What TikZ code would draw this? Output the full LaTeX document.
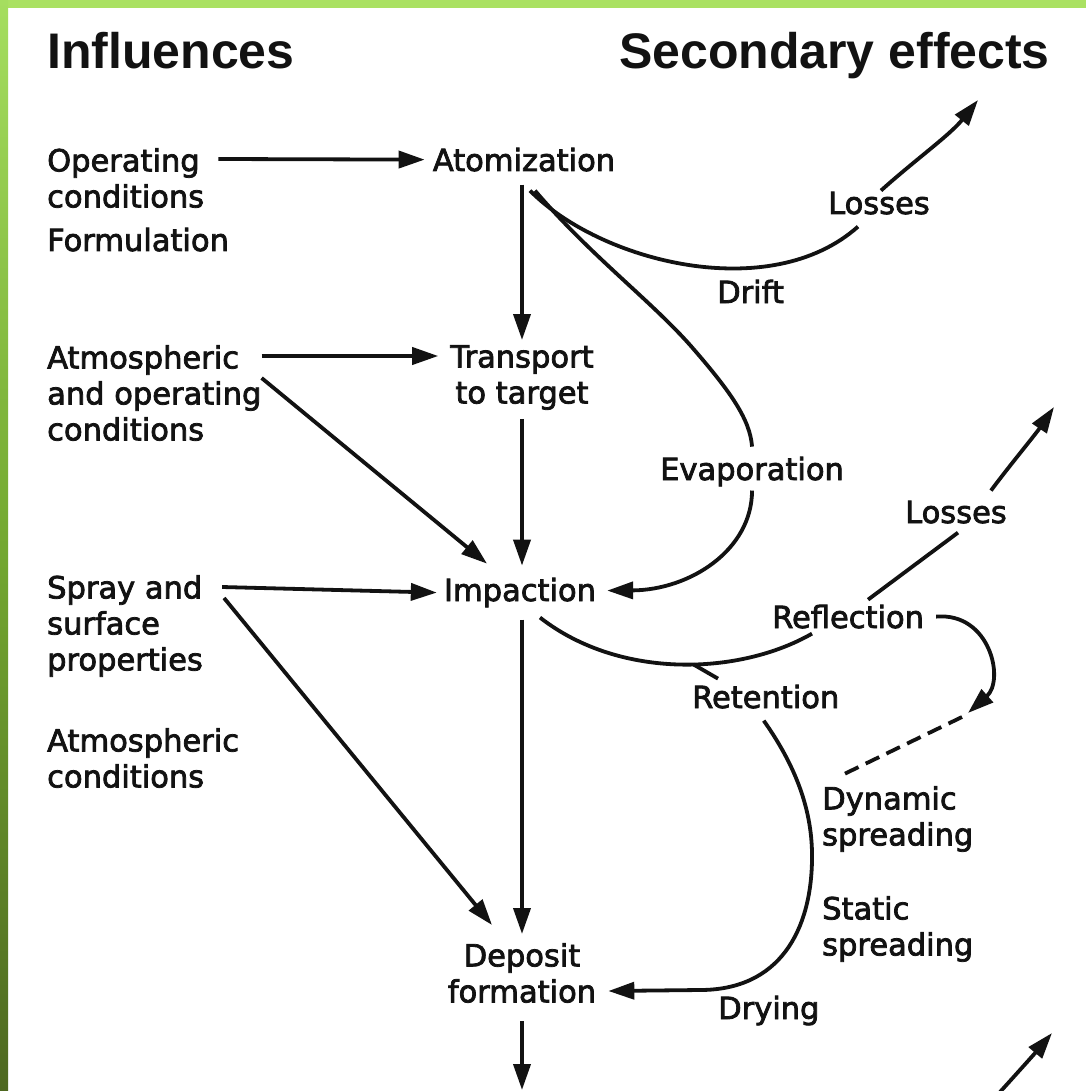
\documentclass[tikz,border=0pt]{standalone}
\usepackage{fontspec}
\setmainfont{DejaVu Sans}
\newfontfamily\labfont{DejaVu Sans}[FakeBold=2.5]
\newfontfamily\headfont{Liberation Sans}
\usetikzlibrary{arrows.meta}
\definecolor{ink}{RGB}{18,18,18}
\definecolor{topgreen}{RGB}{170,225,98}
\definecolor{greenA}{RGB}{165,222,95}
\definecolor{greenB}{RGB}{115,168,48}
\definecolor{greenC}{RGB}{78,104,32}
\tikzset{
  lab/.style={inner sep=0pt, font=\labfont\fontsize{30.5}{36}\selectfont, align=left, text=ink},
  labc/.style={lab, align=center},
  head/.style={inner sep=0pt, font=\headfont\bfseries\fontsize{50}{60}\selectfont, text=ink},
  conn/.style={line width=3.8pt, draw=ink},
  arr/.style={conn, -{Triangle[length=26pt,width=17pt]}},
  dashline/.style={conn, dash pattern=on 15pt off 8pt}
}
\begin{document}
\begin{tikzpicture}[x=1pt,y=-1pt]
\useasboundingbox (0,0) rectangle (1086,1091);
\fill[white] (0,0) rectangle (1086,1091);
\fill[topgreen] (0,0) rectangle (1086,8);
\shade[top color=greenA, bottom color=greenC, middle color=greenB] (0,0) rectangle (8,1091);

% headings
\node[head, anchor=base west] (infl) at (47,69) {Influences};
\node[head, anchor=base east] (sec) at (1050,69) {Secondary effects};

% influences
\node[lab, anchor=north west] (op) at (47,148) {Operating\\conditions};
\node[lab, anchor=base west] (form) at (47,251) {Formulation};
\node[lab, anchor=north west] (atm1) at (47,345) {Atmospheric\\and operating\\conditions};
\node[lab, anchor=north west] (spray) at (47,575) {Spray and\\surface\\properties};
\node[lab, anchor=north west] (atm2) at (47,728) {Atmospheric\\conditions};

% main chain
\node[lab, anchor=base] (atom) at (524,171) {Atomization};
\node[labc, anchor=north] (trans) at (522,345) {Transport\\to target};
\node[lab, anchor=base] (imp) at (520,601) {Impaction};
\node[labc, anchor=north] (dep) at (522,943) {Deposit\\formation};

% secondary
\node[lab, anchor=base west] (drift) at (717,303) {Drift};
\node[lab, anchor=base west] (loss1) at (828,214) {Losses};
\node[lab, anchor=base west] (evap) at (660,480) {Evaporation};
\node[lab, anchor=base west] (loss2) at (905,523) {Losses};
\node[lab, anchor=base west] (refl) at (772,628) {Reflection};
\node[lab, anchor=base west] (ret) at (692,708) {Retention};
\node[lab, anchor=north west] (dyn) at (822,786) {Dynamic\\spreading};
\node[lab, anchor=north west] (stat) at (822,896) {Static\\spreading};
\node[lab, anchor=base west] (dry) at (718,1019) {Drying};

% free ends
\coordinate (out) at (522,1090);
\coordinate (br1) at (1000,1092);
\coordinate (br2) at (1052,1033);
\coordinate (l1t) at (978,100);
\coordinate (l2t) at (1054,407);
\coordinate (rf) at (968,713);

% straight connectors
\draw[arr] ([shift={(14,11)}]op.north east) -- ([xshift=-8pt]atom.west);
\draw[arr] ([shift={(-2,13)}]atom.south) -- ([yshift=5pt]trans.north);
\draw[arr] ([shift={(0,11)}]atm1.north east) -- ([shift={(-12,11)}]trans.north west);
\draw[arr] ([shift={(0,33)}]atm1.north east) -- ([shift={(-33,-14)}]imp.north);
\draw[arr] ([yshift=-9pt]trans.south) -- ([shift={(2,-12)}]imp.north);
\draw[arr] ([shift={(19,12)}]spray.north east) -- ([xshift=-7pt]imp.west);
\draw[arr] ([shift={(21,23)}]spray.north east) -- ([shift={(-30,-18)}]dep.north);
\draw[arr] ([shift={(2,12)}]imp.south) -- ([yshift=9pt]dep.north);
\draw[arr] ([yshift=-18pt]dep.south) -- (out);
\draw[arr] (br1) .. controls (1020,1070) and (1036,1052) .. (br2);

% drift and losses
\draw[conn] ([shift={(6,19)}]atom.south) .. controls (600,262) and (770,305) .. ([shift={(30,12)}]loss1.south west);
\draw[arr] ([shift={(2,-1)}]loss1.north) .. controls (915,160) and (950,135) .. (l1t);

% evaporation
\draw[conn] ([shift={(11,19)}]atom.south) .. controls (590,255) and (650,300) .. (690,345) .. controls (732,393) and (750,420) .. ([yshift=10pt]evap.north);
\draw[arr] ([yshift=-4pt]evap.south) .. controls (752,550) and (690,590) .. ([shift={(11,-2)}]imp.east);

% reflection / retention
\draw[conn] ([shift={(20,10)}]imp.south) .. controls (620,680) and (740,675) .. ([shift={(40,5)}]refl.south west) coordinate[pos=0.55] (rb);
\draw[conn] (rb) -- ([shift={(26,-6)}]ret.north west);
\draw[conn] ([shift={(20,-5)}]refl.north) -- ([shift={(2,9)}]loss2.south);
\draw[arr] ([shift={(-16,-10)}]loss2.north east) .. controls (1010,465) and (1035,435) .. (l2t);
\draw[arr] ([xshift=12pt]refl.east) .. controls (990,612) and (1005,680) .. (rf);
\draw[dashline] ([shift={(-6,4)}]rf) -- ([shift={(16,-9)}]dyn.north west);
\draw[arr] ([shift={(-2,12)}]ret.south) .. controls (795,765) and (813,810) .. (812,860) .. controls (811,930) and (780,990) .. (700,990) -- ([shift={(12,-12)}]dep.south east);
\end{tikzpicture}
\end{document}
